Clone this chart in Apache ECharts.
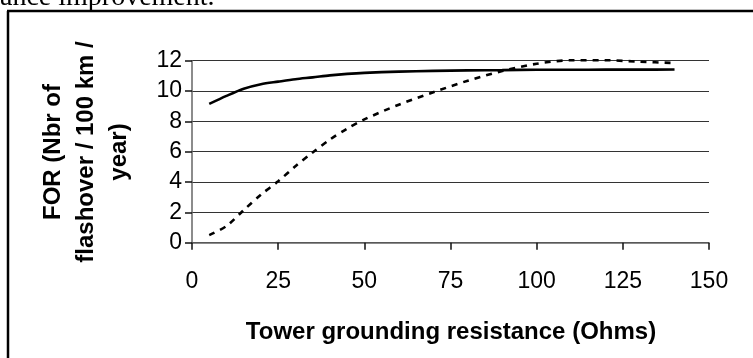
<!DOCTYPE html>
<html>
<head>
<meta charset="utf-8">
<script src="https://cdn.jsdelivr.net/npm/echarts@6/dist/echarts.min.js"></script>
<style>
  html, body { margin: 0; padding: 0; background: #fff; }
  #chart { width: 753px; height: 358px; }
</style>
</head>
<body>
<div id="chart"></div>
<script>
// Tower grounding resistance (Ohms) at which the flashover rate was evaluated
const resistance = [5, 10, 15, 20, 25, 30, 35, 40, 45, 50, 60, 70, 80, 90, 100, 110, 120, 130, 140];

// Flashover rate, solid curve
const forSolid = [9.15, 9.68, 10.15, 10.45, 10.62, 10.78, 10.9, 11.03, 11.13, 11.2, 11.28, 11.33, 11.36, 11.38, 11.4, 11.4, 11.41, 11.41, 11.42];

// Flashover rate, dashed curve
const forDashed = [0.5, 1.1, 2.15, 3.17, 4.05, 5.04, 5.95, 6.8, 7.52, 8.13, 9.1, 9.92, 10.68, 11.32, 11.8, 12.03, 12.03, 11.93, 11.85];

// Axis ticks
const xTicks = [0, 25, 50, 75, 100, 125, 150];
const yTicks = [0, 2, 4, 6, 8, 10, 12];

const pairs = (xs, ys) => xs.map((x, i) => [x, ys[i]]);

const chart = echarts.init(document.getElementById('chart'), null, { renderer: 'canvas' });

const sans = '"Liberation Sans", Arial, sans-serif';

chart.setOption({
  animation: false,
  backgroundColor: '#ffffff',
  grid: { left: 192, right: 44, top: 60.7, bottom: 115.3, containLabel: false },
  xAxis: {
    type: 'value',
    min: xTicks[0],
    max: xTicks[xTicks.length - 1],
    interval: 25,
    axisLine: { show: true, lineStyle: { color: '#666', width: 1.5 } },
    axisTick: { show: true, inside: false, length: 7, lineStyle: { color: '#111', width: 1.5 } },
    axisLabel: { color: '#000', fontFamily: sans, fontSize: 23, margin: 27 },
    splitLine: { show: false }
  },
  yAxis: {
    type: 'value',
    min: yTicks[0],
    max: yTicks[yTicks.length - 1],
    interval: 2,
    axisLine: { show: true, lineStyle: { color: '#666', width: 1.5 } },
    axisTick: { show: true, inside: false, length: 7, lineStyle: { color: '#111', width: 1.5 } },
    axisLabel: { color: '#000', fontFamily: sans, fontSize: 23, margin: 10 },
    splitLine: { show: true, lineStyle: { color: '#333', width: 1.2 } }
  },
  series: [
    {
      type: 'line',
      data: pairs(resistance, forSolid),
      showSymbol: false,
      smooth: 0.3,
      lineStyle: { color: '#000', width: 2.6, type: 'solid' }
    },
    {
      type: 'line',
      data: pairs(resistance, forDashed),
      showSymbol: false,
      smooth: 0.3,
      clip: false,
      lineStyle: { color: '#000', width: 2.6, type: [6, 6] }
    }
  ],
  graphic: [
    // tail of the preceding sentence of the page
    {
      type: 'text', left: 0, top: -16,
      style: { text: 'ance improvement.', fontFamily: '"Liberation Serif", "Times New Roman", serif', fontSize: 28, fill: '#000' }
    },
    // frame around the figure (left and top edges)
    { type: 'line', shape: { x1: 8, y1: 11, x2: 8, y2: 358 }, style: { stroke: '#000', lineWidth: 2.5 } },
    { type: 'line', shape: { x1: 7, y1: 11, x2: 753, y2: 11 }, style: { stroke: '#000', lineWidth: 2.5 } },
    // y-axis title
    {
      type: 'text', x: 86, y: 152, rotation: Math.PI / 2,
      style: {
        text: 'FOR (Nbr of\nflashover / 100 km /\nyear)',
        fontFamily: sans, fontWeight: 'bold', fontSize: 24, lineHeight: 33,
        align: 'center', verticalAlign: 'middle', fill: '#000'
      }
    },
    // x-axis title
    {
      type: 'text', x: 451, y: 332,
      style: {
        text: 'Tower grounding resistance (Ohms)',
        fontFamily: sans, fontWeight: 'bold', fontSize: 24,
        align: 'center', verticalAlign: 'middle', fill: '#000'
      }
    }
  ]
});
</script>
</body>
</html>
